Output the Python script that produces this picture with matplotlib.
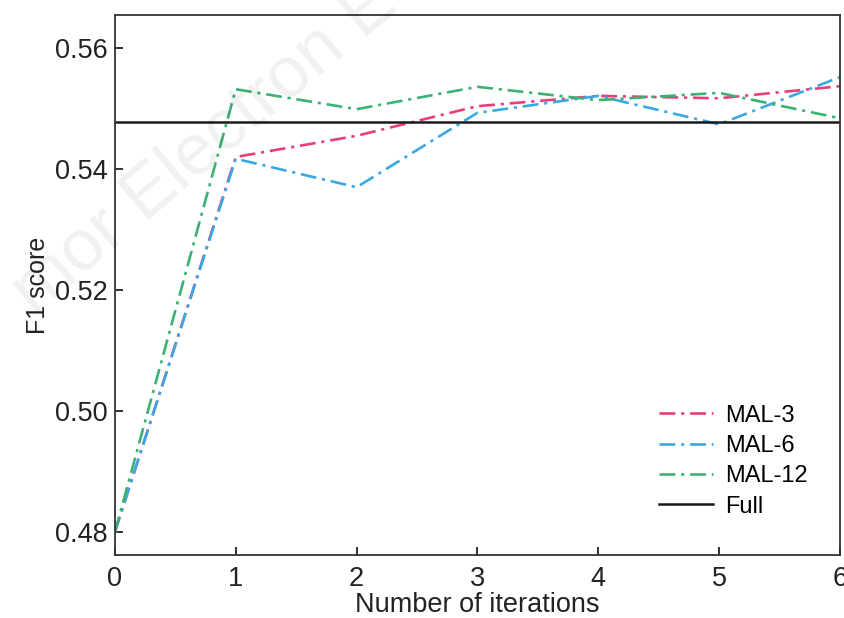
import matplotlib
matplotlib.use('Agg')
import matplotlib.pyplot as plt

plt.rcParams['font.family'] = ['Liberation Sans', 'DejaVu Sans']

iterations = [0, 1, 2, 3, 4, 5, 6]
mal3 = [0.480, 0.5420, 0.5455, 0.5504, 0.5521, 0.5517, 0.5537]
mal6 = [0.480, 0.5417, 0.5370, 0.5493, 0.5521, 0.5474, 0.5552]
mal12 = [0.480, 0.5532, 0.5499, 0.5536, 0.5514, 0.5526, 0.5484]
full = 0.5478

colors = {'MAL-3': '#ea3d7d', 'MAL-6': '#3aa9e3', 'MAL-12': '#3bb273'}

fig = plt.figure(figsize=(8.45, 6.18), dpi=100)
ax = fig.add_axes([0.136, 0.102, 0.858, 0.874])

dash = (6, 2.2, 1.2, 2.2)
ax.plot(iterations, mal3, color=colors['MAL-3'], lw=1.9, dashes=dash, label='MAL-3')
ax.plot(iterations, mal6, color=colors['MAL-6'], lw=1.9, dashes=dash, label='MAL-6')
ax.plot(iterations, mal12, color=colors['MAL-12'], lw=1.9, dashes=dash, label='MAL-12')
ax.axhline(full, color='#1a1a1a', lw=1.8, label='Full')

ax.set_xlim(0, 6)
ax.set_ylim(0.4762, 0.5655)
ax.set_xticks(iterations)
ax.set_yticks([0.48, 0.50, 0.52, 0.54, 0.56])
ax.set_yticklabels(['0.48', '0.50', '0.52', '0.54', '0.56'])
ax.tick_params(direction='in', length=6, width=1.3, labelsize=19.5, colors='#222222', pad=5)
ax.tick_params(axis='x', pad=8)
for s in ax.spines.values():
    s.set_linewidth(1.3)
    s.set_color('#333333')

ax.set_xlabel('Number of iterations', fontsize=19.5, labelpad=0, color='#222222')
ax.set_ylabel('F1 score', fontsize=18, labelpad=4, color='#222222')

ax.legend(loc='lower right', frameon=False, fontsize=17, handlelength=2.3,
          handletextpad=0.5, labelspacing=0.35, bbox_to_anchor=(0.985, 0.03))

fig.text(0.0, 0.47, 'mor Electron E', fontsize=52, color='#000000', alpha=0.06,
         rotation=40, ha='left', va='bottom')

fig.savefig('out.png', dpi=100)
